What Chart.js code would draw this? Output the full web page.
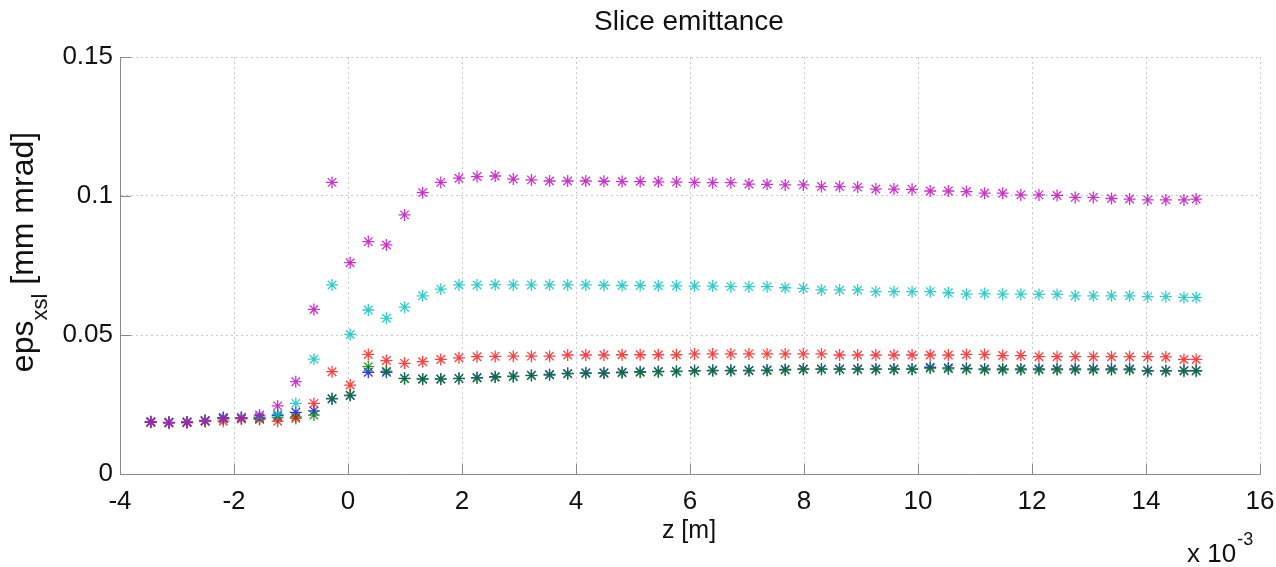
<!DOCTYPE html>
<html>
<head>
<meta charset="utf-8">
<script src="https://cdn.jsdelivr.net/npm/chart.js@4/dist/chart.umd.min.js"></script>
<style>
html,body{margin:0;padding:0;background:#fff;}
#wrap{width:1276px;height:567px;}
</style>
</head>
<body>
<div id="wrap"><canvas id="c" width="1276" height="567"></canvas></div>
<script>
// ---- data (z in units of 1e-3 m, emittance in mm mrad) ----
const zValues = [-3.46,-3.142,-2.824,-2.506,-2.188,-1.870,-1.552,-1.234,-0.916,-0.598,
  -0.280,0.038,0.356,0.674,0.992,1.310,1.628,1.946,2.264,2.582,
  2.900,3.218,3.536,3.854,4.172,4.490,4.808,5.126,5.444,5.762,
  6.080,6.398,6.716,7.034,7.352,7.670,7.988,8.306,8.624,8.942,
  9.260,9.578,9.896,10.214,10.532,10.850,11.168,11.486,11.804,12.122,
  12.440,12.758,13.076,13.394,13.712,14.030,14.348,14.666,14.88];

const epsBlue = [0.0187,0.0186,0.0187,0.0193,0.0203,0.0203,0.0203,0.0210,0.0222,0.0227,
  0.0270,0.0282,0.0366,0.0366,0.0344,0.0342,0.0342,0.0344,0.0347,0.0350,
  0.0352,0.0355,0.0358,0.0362,0.0364,0.0364,0.0366,0.0368,0.0369,0.0370,
  0.0372,0.0373,0.0373,0.0373,0.0374,0.0376,0.0378,0.0378,0.0378,0.0378,
  0.0378,0.0378,0.0378,0.0384,0.0382,0.0380,0.0378,0.0378,0.0378,0.0378,
  0.0378,0.0378,0.0378,0.0378,0.0378,0.0372,0.0372,0.0372,0.0372];

const epsGreen = [0.0186,0.0185,0.0186,0.0191,0.0198,0.0200,0.0198,0.0203,0.0205,0.0212,
  0.0272,0.0284,0.0386,0.0370,0.0343,0.0341,0.0341,0.0343,0.0345,0.0348,
  0.0350,0.0354,0.0356,0.0360,0.0362,0.0362,0.0364,0.0366,0.0367,0.0368,
  0.0370,0.0371,0.0371,0.0371,0.0372,0.0374,0.0376,0.0376,0.0376,0.0376,
  0.0376,0.0376,0.0376,0.0380,0.0378,0.0377,0.0375,0.0375,0.0375,0.0375,
  0.0375,0.0375,0.0375,0.0375,0.0375,0.0370,0.0370,0.0370,0.0370];

const epsRed = [0.0186,0.0183,0.0184,0.0189,0.0190,0.0198,0.0197,0.0190,0.0200,0.0254,
  0.0368,0.0320,0.0430,0.0408,0.0398,0.0404,0.0412,0.0418,0.0422,0.0423,
  0.0424,0.0424,0.0424,0.0428,0.0428,0.0428,0.0429,0.0429,0.0429,0.0429,
  0.0432,0.0432,0.0432,0.0432,0.0432,0.0432,0.0432,0.0432,0.0428,0.0428,
  0.0428,0.0428,0.0428,0.0428,0.0428,0.0430,0.0430,0.0426,0.0426,0.0422,
  0.0422,0.0422,0.0422,0.0422,0.0422,0.0422,0.0421,0.0412,0.0412];

const epsCyan = [0.0188,0.0185,0.0186,0.0192,0.0200,0.0202,0.0205,0.0215,0.0254,0.0413,
  0.0680,0.0502,0.0590,0.0560,0.0600,0.0641,0.0665,0.0680,0.0680,0.0681,
  0.0680,0.0680,0.0680,0.0680,0.0680,0.0679,0.0678,0.0678,0.0677,0.0677,
  0.0676,0.0676,0.0674,0.0674,0.0674,0.0670,0.0668,0.0662,0.0662,0.0662,
  0.0656,0.0656,0.0656,0.0656,0.0652,0.0647,0.0649,0.0647,0.0647,0.0646,
  0.0646,0.0641,0.0641,0.0641,0.0641,0.0638,0.0638,0.0635,0.0635];

const epsMagenta = [0.0188,0.0185,0.0186,0.0191,0.0200,0.0202,0.0212,0.0245,0.0332,0.0592,
  0.1049,0.0760,0.0836,0.0824,0.0932,0.1012,0.1049,0.1064,0.1070,0.1072,
  0.1061,0.1058,0.1054,0.1054,0.1054,0.1053,0.1052,0.1052,0.1051,0.1050,
  0.1049,0.1048,0.1048,0.1043,0.1042,0.1040,0.1040,0.1034,0.1034,0.1032,
  0.1025,0.1025,0.1024,0.1018,0.1018,0.1016,0.1010,0.1010,0.1004,0.1004,
  0.1002,0.0995,0.0995,0.0991,0.0989,0.0986,0.0986,0.0986,0.0989];

const xTicks = [-4,-2,0,2,4,6,8,10,12,14,16];
const yTicks = [0,0.05,0.1,0.15];

const titleText = 'Slice emittance';
const xTitleText = 'z [m]';
const yTitleMain = 'eps';
const yTitleSub = 'xsl';
const yTitleRest = ' [mm mrad]';
const xExpBase = 'x 10';
const xExpPow = '-3';

const FONT = '"Liberation Sans", Arial, Helvetica, sans-serif';

function pts(ys){ return zValues.map((x,i)=>({x:x,y:ys[i]})); }

function ds(label, ys, color, order){
  return {label:label, data:pts(ys), showLine:false, pointStyle:'star',
    pointRadius:6, pointHoverRadius:6, borderColor:color, backgroundColor:color,
    pointBorderWidth:1.3, order:order};
}

const textPlugin = {
  id:'texts',
  afterDraw(chart){
    const ctx = chart.ctx;
    const a = chart.chartArea;
    const x = chart.scales.x, y = chart.scales.y;
    ctx.save();
    // inward ticks on left and bottom axes
    ctx.strokeStyle = '#8a8a8a';
    ctx.lineWidth = 1;
    ctx.beginPath();
    xTicks.forEach(v=>{ const px = Math.round(x.getPixelForValue(v))+0.5; ctx.moveTo(px,a.bottom); ctx.lineTo(px,a.bottom-10); });
    yTicks.forEach(v=>{ const py = Math.round(y.getPixelForValue(v))+0.5; ctx.moveTo(a.left,py); ctx.lineTo(a.left+11,py); });
    ctx.stroke();

    ctx.fillStyle = '#111';
    ctx.textAlign = 'center';
    ctx.textBaseline = 'middle';
    ctx.font = '28px ' + FONT;
    ctx.fillText(titleText, 689, 22);
    ctx.font = '25px ' + FONT;
    ctx.fillText(xTitleText, 689, 531);

    // x 10^-3
    ctx.textAlign = 'left';
    ctx.textBaseline = 'alphabetic';
    ctx.font = '26px ' + FONT;
    ctx.fillText(xExpBase, 1187, 562);
    const wb = ctx.measureText(xExpBase).width;
    ctx.font = '18px ' + FONT;
    ctx.fillText(xExpPow, 1187 + wb + 1, 545);

    // y title with subscript, rotated
    ctx.translate(33, 252);
    ctx.rotate(-Math.PI/2);
    ctx.font = '32px ' + FONT;
    const w1 = ctx.measureText(yTitleMain).width;
    const w3 = ctx.measureText(yTitleRest).width;
    ctx.font = '22px ' + FONT;
    const w2 = ctx.measureText(yTitleSub).width;
    let sx = -(w1+w2+w3)/2;
    ctx.font = '32px ' + FONT;
    ctx.fillText(yTitleMain, sx, 0);
    ctx.font = '22px ' + FONT;
    ctx.fillText(yTitleSub, sx + w1, 14);
    ctx.font = '32px ' + FONT;
    ctx.fillText(yTitleRest, sx + w1 + w2, 0);
    ctx.restore();
  }
};

new Chart(document.getElementById('c'), {
  type:'scatter',
  data:{datasets:[
    ds('blue', epsBlue, 'rgba(0,0,255,0.8)', 5),
    ds('green', epsGreen, 'rgba(0,128,0,0.8)', 4),
    ds('red', epsRed, 'rgba(255,0,0,0.75)', 3),
    ds('cyan', epsCyan, 'rgba(0,191,191,0.8)', 2),
    ds('magenta', epsMagenta, 'rgba(191,0,191,0.8)', 1)
  ]},
  options:{
    responsive:false,
    animation:false,
    events:[],
    layout:{padding:{top:57,right:16,left:0,bottom:0}},
    plugins:{legend:{display:false}, title:{display:false}, tooltip:{enabled:false}},
    scales:{
      x:{type:'linear', min:-4, max:16,
        afterBuildTicks(s){ s.ticks = xTicks.map(v=>({value:v})); },
        afterFit(s){ s.height = 93; s.paddingRight = 0; s.paddingLeft = 0; },
        ticks:{font:{family:FONT,size:26}, color:'#111', padding:12, maxRotation:0,
          callback:(v)=>String(v)},
        grid:{color:'#c8c8c8', lineWidth:1, drawTicks:false},
        border:{display:true, color:'#8a8a8a', width:1, dash:[2,3]}
      },
      y:{type:'linear', min:0, max:0.15,
        afterBuildTicks(s){ s.ticks = yTicks.map(v=>({value:v})); },
        afterFit(s){ s.width = 120; s.paddingTop = 0; s.paddingBottom = 0; },
        ticks:{font:{family:FONT,size:26}, color:'#111', padding:7,
          callback:(v)=>String(v)},
        grid:{color:'#c8c8c8', lineWidth:1, drawTicks:false},
        border:{display:true, color:'#8a8a8a', width:1, dash:[2,3]}
      }
    }
  },
  plugins:[textPlugin]
});
</script>
</body>
</html>
